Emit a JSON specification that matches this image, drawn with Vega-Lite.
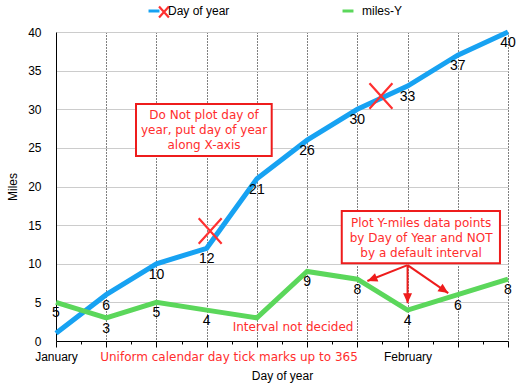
{
  "$schema": "https://vega.github.io/schema/vega-lite/v6.json",
  "width": 452,
  "height": 309,
  "autosize": {"type": "none"},
  "padding": {"left": 56, "top": 32, "right": 23, "bottom": 51},
  "background": "white",
  "config": {"view": {"stroke": null}, "font": "Liberation Sans"},
  "datasets": {
    "series": [
      {"x": 0, "series": "Day of year", "y": 1},
      {"x": 1, "series": "Day of year", "y": 6},
      {"x": 2, "series": "Day of year", "y": 10},
      {"x": 3, "series": "Day of year", "y": 12},
      {"x": 4, "series": "Day of year", "y": 21},
      {"x": 5, "series": "Day of year", "y": 26},
      {"x": 6, "series": "Day of year", "y": 30},
      {"x": 7, "series": "Day of year", "y": 33},
      {"x": 8, "series": "Day of year", "y": 37},
      {"x": 9, "series": "Day of year", "y": 40},
      {"x": 0, "series": "miles-Y", "y": 5},
      {"x": 1, "series": "miles-Y", "y": 3},
      {"x": 2, "series": "miles-Y", "y": 5},
      {"x": 3, "series": "miles-Y", "y": 4},
      {"x": 4, "series": "miles-Y", "y": 3},
      {"x": 5, "series": "miles-Y", "y": 9},
      {"x": 6, "series": "miles-Y", "y": 8},
      {"x": 7, "series": "miles-Y", "y": 4},
      {"x": 8, "series": "miles-Y", "y": 6},
      {"x": 9, "series": "miles-Y", "y": 8}
    ],
    "boxes": [
      {"x": 1.593, "x2": 4.295, "y": 30.68, "y2": 23.95},
      {"x": 5.69, "x2": 8.84, "y": 16.83, "y2": 10.06}
    ],
    "notes": [
      {"x": 2.947, "y": 29.2, "t": "Do Not plot day of\nyear, put day of year\nalong X-axis"},
      {"x": 7.27, "y": 15.3, "t": "Plot Y-miles data points\nby Day of Year and NOT\nby a default interval"},
      {"x": 4.72, "y": 1.81, "t": "Interval not decided"},
      {"x": 3.445, "y": -2.07, "t": "Uniform calendar day tick marks up to 365"}
    ],
    "arrows": [
      {"x": 7.0, "y": 9.83, "x2": 6.2, "y2": 7.76},
      {"x": 7.0, "y": 9.83, "x2": 7.0, "y2": 4.9},
      {"x": 7.0, "y": 9.83, "x2": 7.81, "y2": 6.2}
    ],
    "heads": [
      {"x": 6.2, "y": 7.76, "angle": 248.3},
      {"x": 7.0, "y": 4.9, "angle": 180},
      {"x": 7.81, "y": 6.2, "angle": 124.5}
    ],
    "crosses": [
      {"x": 3.07, "y": 14.24, "kind": "plot"},
      {"x": 6.47, "y": 31.72, "kind": "plot"},
      {"x": 2.15, "y": 42.6, "kind": "legend"}
    ]
  },
  "encoding": {
    "x": {
      "field": "x",
      "type": "quantitative",
      "scale": {"domain": [0, 9], "nice": false, "zero": false},
      "axis": {
        "title": "Day of year",
        "values": [0, 0.5, 1, 1.5, 2, 2.5, 3, 3.5, 4, 4.5, 5, 5.5, 6, 6.5, 7, 7.5, 8, 8.5, 9],
        "tickCount": 40,
        "labelExpr": "datum.value == 0 ? 'January' : (datum.value == 7 ? 'February' : '')",
        "labelOverlap": false,
        "labelFlush": false,
        "grid": true,
        "gridColor": "black",
        "gridDash": [1, 2],
        "gridOpacity": {"condition": {"test": "datum.value % 1 == 0 && datum.value > 0", "value": 1}, "value": 0},
        "tickSize": {"condition": {"test": "datum.value % 1 == 0", "value": 6}, "value": 3},
        "tickColor": "black",
        "domainColor": "black",
        "labelFontSize": 12,
        "labelColor": "black",
        "labelPadding": 4,
        "titleFontSize": 12,
        "titleFontWeight": "normal",
        "titleColor": "black",
        "titlePadding": 8
      }
    },
    "y": {
      "field": "y",
      "type": "quantitative",
      "scale": {"domain": [0, 40], "nice": false},
      "axis": {
        "title": "Miles",
        "values": [0, 5, 10, 15, 20, 25, 30, 35, 40],
        "tickCount": 20,
        "labelOverlap": false,
        "grid": true,
        "gridColor": "#cccccc",
        "ticks": false,
        "domainColor": "black",
        "labelFontSize": 12,
        "labelColor": "black",
        "labelPadding": 15,
        "titleFontSize": 12,
        "titleFontWeight": "normal",
        "titleColor": "black",
        "titlePadding": 8
      }
    }
  },
  "layer": [
    {
      "data": {"name": "series"},
      "mark": {"type": "line", "strokeWidth": 5},
      "encoding": {
        "color": {
          "field": "series",
          "type": "nominal",
          "scale": {"domain": ["Day of year", "miles-Y"], "range": ["#17a2f2", "#5bd75b"]},
          "legend": {
            "title": null,
            "orient": "none",
            "legendX": 91,
            "legendY": -28,
            "direction": "horizontal",
            "symbolType": "stroke",
            "symbolStrokeWidth": 3,
            "symbolSize": 120,
            "labelFontSize": 12,
            "labelColor": "black",
            "labelOffset": 7,
            "columnPadding": 106,
            "padding": 0
          }
        }
      }
    },
    {
      "data": {"name": "series"},
      "transform": [{"filter": "!(datum.series == 'Day of year' && datum.x == 0) && !(datum.series == 'miles-Y' && datum.x == 4)"}],
      "mark": {"type": "text", "dy": 11, "fontSize": 14, "baseline": "middle", "align": "center", "color": "black"},
      "encoding": {
        "text": {"field": "y", "type": "quantitative"}
      }
    },
    {
      "data": {"name": "boxes"},
      "mark": {"type": "rect", "fill": "white", "stroke": "#ee1c1c", "strokeWidth": 2},
      "encoding": {
        "x2": {"field": "x2"},
        "y2": {"field": "y2"}
      }
    },
    {
      "data": {"name": "notes"},
      "mark": {"type": "text", "font": "DejaVu Sans", "fontSize": 12, "color": "#ff2d2d", "align": "center", "baseline": "middle", "lineBreak": "\n", "lineHeight": 15},
      "encoding": {
        "text": {"field": "t", "type": "nominal"}
      }
    },
    {
      "data": {"name": "arrows"},
      "mark": {"type": "rule", "color": "#ee1c1c", "strokeWidth": 2},
      "encoding": {
        "x2": {"field": "x2"},
        "y2": {"field": "y2"}
      }
    },
    {
      "data": {"name": "heads"},
      "mark": {"type": "point", "shape": "M0,0L0.9,2L-0.9,2Z", "filled": true, "color": "#ee1c1c", "size": 100, "opacity": 1},
      "encoding": {
        "angle": {"field": "angle", "type": "quantitative", "scale": null}
      }
    },
    {
      "data": {"name": "crosses"},
      "mark": {"type": "point", "shape": "M-0.9,-1L0.9,1M0.9,-1L-0.9,1", "filled": false, "stroke": "#ff3030", "strokeWidth": 2.2, "opacity": 1},
      "encoding": {
        "size": {"field": "kind", "type": "nominal", "scale": {"domain": ["plot", "legend"], "range": [650, 120]}, "legend": null}
      }
    }
  ]
}
